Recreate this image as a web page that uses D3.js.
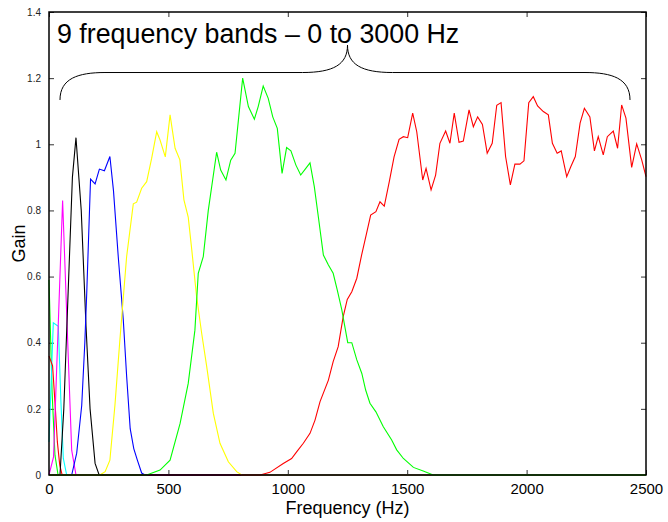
<!DOCTYPE html>
<html>
<head>
<meta charset="utf-8">
<script src="https://cdn.jsdelivr.net/npm/d3@7"></script>
<style>
    body { margin: 0; background: #fff; }
    text { font-family: Arial, "Liberation Sans", sans-serif; }
</style>
</head>
<body>
<div id="chart"></div>
<script>
// band responses, [Hz, gain]
let greenLow = [[0,0.59],[13,0.25],[25,0.06],[38,0],[2500,0]]
let cyanBand = [[0,0.1],[18,0.46],[39,0.45],[50,0.22],[60,0.05],[74,0],[2500,0]]
let redLow = [[0,0.36],[15,0.33],[25,0.22],[35,0.1],[45,0.03],[55,0],[2500,0]]
let magentaBand = [[0,0],[19,0.055],[38,0.44],[57,0.83],[76,0.45],[95,0.075],[113,0],[2500,0]]
let blackBand = [[0,0],[46,0],[62,0.2],[80,0.55],[98,0.9],[113,1.02],[135,0.8],[155,0.45],[172,0.2],[193,0.035],[210,0],[2500,0]]
let blueBand = [[0,0],[95,0],[116,0.066],[137,0.21],[150,0.4],[158,0.55],[174,0.895],[193,0.88],[211,0.925],[232,0.92],
    [255,0.963],[270,0.86],[290,0.66],[311,0.47],[325,0.3],[340,0.14],[355,0.08],[370,0.045],[388,0.006],[402,0],[2500,0]]
let yellowBand = [[0,0],[213,0],[235,0.01],[255,0.045],[276,0.21],[297,0.41],[325,0.66],[353,0.82],[367,0.825],[388,0.867],
    [409,0.887],[430,0.958],[451,1.038],[465,1.013],[487,0.962],[507,1.089],[528,0.988],[548,0.953],[565,0.832],[583,0.78],
    [598,0.68],[618,0.54],[639,0.43],[660,0.33],[688,0.187],[716,0.096],[751,0.04],[786,0.01],[807,0],[2500,0]]
let redHigh = [[0,0],[884,0],[925,0.008],[981,0.035],[1016,0.05],[1037,0.07],[1065,0.096],[1093,0.126],[1114,0.166],
    [1135,0.222],[1170,0.287],[1190,0.343],[1211,0.388],[1232,0.479],[1249,0.531],[1268,0.554],[1289,0.595],[1309,0.665],
    [1330,0.731],[1347,0.786],[1369,0.796],[1386,0.826],[1404,0.813],[1425,0.887],[1445,0.962],[1466,1.015],[1484,1.023],
    [1502,1.02],[1523,1.094],[1540,1.038],[1565,0.892],[1579,0.927],[1600,0.862],[1619,0.907],[1637,1.003],[1661,1.04],
    [1679,1.003],[1697,1.094],[1717,1.006],[1735,1.01],[1759,1.104],[1777,1.053],[1795,1.083],[1815,1.06],[1835,0.973],
    [1856,1.003],[1875,1.118],[1893,1.126],[1912,0.963],[1932,0.877],[1951,0.94],[1972,0.94],[1989,0.95],[2009,1.126],
    [2028,1.144],[2046,1.116],[2070,1.099],[2091,1.089],[2108,1.003],[2128,0.973],[2145,0.98],[2168,0.902],[2185,0.932],
    [2204,0.963],[2224,1.064],[2242,1.109],[2265,1.083],[2284,0.98],[2300,1.023],[2321,0.968],[2338,1.023],[2363,1.04],
    [2381,0.988],[2398,1.119],[2416,1.079],[2440,0.93],[2461,1.001],[2482,0.953],[2500,0.902]]
let greenMid = [[0,0],[409,0],[465,0.015],[507,0.045],[549,0.156],[583,0.277],[611,0.438],[625,0.61],[646,0.66],[667,0.8],
    [702,0.976],[719,0.922],[741,0.892],[761,0.952],[779,0.973],[811,1.2],[835,1.114],[860,1.076],[876,1.114],[897,1.176],
    [918,1.139],[937,1.083],[956,1.048],[976,0.912],[995,0.99],[1013,0.98],[1034,0.937],[1054,0.907],[1073,0.925],[1093,0.944],
    [1111,0.872],[1128,0.78],[1149,0.665],[1170,0.635],[1190,0.61],[1207,0.56],[1226,0.5],[1251,0.4],[1268,0.4],[1289,0.348],
    [1310,0.307],[1326,0.257],[1344,0.217],[1369,0.191],[1400,0.146],[1435,0.106],[1456,0.076],[1484,0.05],[1526,0.023],
    [1567,0.012],[1609,0],[2500,0]]

let bandColors = ["#00ff00", "#00ffff", "#ff0000", "#ff00ff", "#000000", "#0000ff", "#ffff00", "#ff0000", "#00ff00"]
let bands = [greenLow, cyanBand, redLow, magentaBand, blackBand, blueBand, yellowBand, redHigh, greenMid]

let xTicks = [0, 500, 1000, 1500, 2000, 2500]
let yTicks = [0, 0.2, 0.4, 0.6, 0.8, 1, 1.2, 1.4]
let titleText = "9 frequency bands \u2013 0 to 3000 Hz"
// brace: ends, flat part and tip, in Hz / gain
let braceHz = [46, 1250, 2433]
let braceGain = [1.134, 1.217, 1.3]

let width = 668, height = 522
let margin = {top: 12, right: 22, bottom: 47, left: 49}
let innerW = width - margin.left - margin.right
let innerH = height - margin.top - margin.bottom

let svg = d3.select("#chart").append("svg")
    .attr("width", width)
    .attr("height", height)

let g = svg.append("g")
    .attr("transform", `translate(${margin.left}, ${margin.top})`)

let x = d3.scaleLinear().domain([0, 2500]).range([0, innerW])
let y = d3.scaleLinear().domain([0, 1.4]).range([innerH, 0])

// axes, ticks pointing inward like the original
let bottomAxis = g.append("g")
    .attr("transform", `translate(0, ${innerH})`)
    .call(d3.axisBottom(x).tickValues(xTicks).tickSizeInner(-5).tickSizeOuter(0).tickPadding(8).tickFormat(d3.format("d")))
bottomAxis.selectAll("text").style("font-size", "15px").attr("fill", "#000")

g.append("g")
    .call(d3.axisTop(x).tickValues(xTicks).tickSizeInner(-5).tickSizeOuter(0).tickFormat(""))

let leftAxis = g.append("g")
    .call(d3.axisLeft(y).tickValues(yTicks).tickSizeInner(-5).tickSizeOuter(0).tickPadding(8).tickFormat(d => d3.format("")(+d.toFixed(1))))
leftAxis.selectAll("text").style("font-size", "10px").attr("fill", "#222")

g.append("g")
    .attr("transform", `translate(${innerW}, 0)`)
    .call(d3.axisRight(y).tickValues(yTicks).tickSizeInner(-5).tickSizeOuter(0).tickFormat(""))

g.selectAll(".domain").remove()
g.selectAll(".tick line").attr("stroke", "#333")

// band curves
let line = d3.line()
    .x(d => x(d[0]))
    .y(d => y(d[1]))

g.selectAll(".band")
    .data(bands)
    .enter()
    .append("path")
    .attr("class", "band")
    .attr("d", d => line(d))
    .attr("fill", "none")
    .attr("stroke", (d, i) => bandColors[i])
    .attr("stroke-width", 1.1)

// frame
g.append("rect")
    .attr("width", innerW)
    .attr("height", innerH)
    .attr("fill", "none")
    .attr("stroke", "#000")
    .attr("stroke-width", 1.5)

// curly brace over the bands
let bx0 = x(braceHz[0]), bx1 = x(braceHz[1]), bx2 = x(braceHz[2])
let by0 = y(braceGain[0]), by1 = y(braceGain[1]), by2 = y(braceGain[2])
let bracePath = `M${bx0},${by0} C${bx0},${by1 + 6} ${bx0 + 18},${by1} ${bx0 + 45},${by1}`
    + ` L${bx1 - 45},${by1} C${bx1 - 14},${by1} ${bx1},${by1 - 8} ${bx1},${by2}`
    + ` C${bx1},${by1 - 8} ${bx1 + 14},${by1} ${bx1 + 45},${by1}`
    + ` L${bx2 - 45},${by1} C${bx2 - 18},${by1} ${bx2},${by1 + 6} ${bx2},${by0}`
g.append("path")
    .attr("d", bracePath)
    .attr("fill", "none")
    .attr("stroke", "#000")
    .attr("stroke-width", 1)

g.append("text")
    .attr("x", 8)
    .attr("y", 31)
    .style("font-size", "26.8px")
    .text(titleText)

// axis labels
svg.append("text")
    .attr("x", margin.left + innerW / 2)
    .attr("y", 514)
    .attr("text-anchor", "middle")
    .style("font-size", "18px")
    .text("Frequency (Hz)")

svg.append("text")
    .attr("transform", `translate(25, ${margin.top + innerH / 2}) rotate(-90)`)
    .attr("text-anchor", "middle")
    .style("font-size", "18px")
    .text("Gain")
</script>
</body>
</html>
